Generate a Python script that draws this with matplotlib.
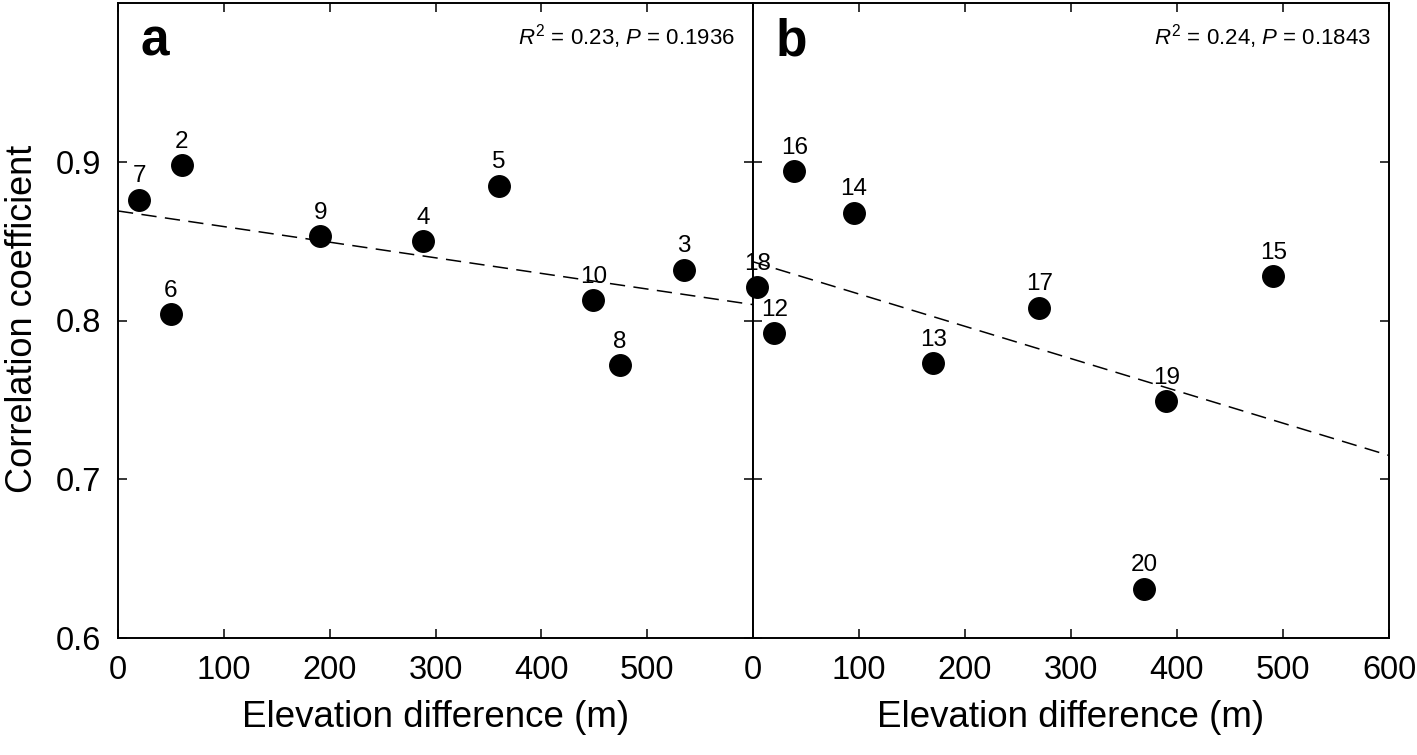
import numpy as np
import matplotlib
matplotlib.use('Agg')
import matplotlib.pyplot as plt

plt.rcParams['font.family'] = ['Liberation Sans', 'DejaVu Sans']
plt.rcParams['mathtext.fontset'] = 'custom'
plt.rcParams['mathtext.rm'] = 'Liberation Sans'
plt.rcParams['mathtext.it'] = 'Liberation Sans:italic'

# panel a
site_a = ['7', '2', '6', '9', '4', '5', '10', '8', '3']
elev_a = [20, 60, 50, 191, 288, 360, 449, 474, 535]
corr_a = [0.876, 0.898, 0.804, 0.853, 0.850, 0.885, 0.813, 0.772, 0.832]
fit_x_a = [0, 600]
fit_y_a = [0.869, 0.810]
stats_a = r'$R^2$ = 0.23, $P$ = 0.1936'

# panel b
site_b = ['18', '12', '16', '14', '13', '17', '19', '20', '15']
elev_b = [4, 20, 39, 95, 170, 270, 390, 369, 491]
corr_b = [0.821, 0.792, 0.894, 0.868, 0.773, 0.808, 0.749, 0.631, 0.828]
fit_x_b = [0, 600]
fit_y_b = [0.837, 0.715]
stats_b = r'$R^2$ = 0.24, $P$ = 0.1843'

yticks = [0.6, 0.7, 0.8, 0.9]

fig = plt.figure(figsize=(14.17, 7.55), dpi=100)
ax1 = fig.add_axes([118/1417, 117/755, 635/1417, 635/755])
ax2 = fig.add_axes([753/1417, 117/755, 636/1417, 635/755])

panels = [(ax1, 'a', site_a, elev_a, corr_a, fit_x_a, fit_y_a, stats_a, [0, 100, 200, 300, 400, 500]),
          (ax2, 'b', site_b, elev_b, corr_b, fit_x_b, fit_y_b, stats_b, [0, 100, 200, 300, 400, 500, 600])]

for ax, letter, sites, xs, ys, fx, fy, stats, xt in panels:
    ax.plot(fx, fy, color='black', lw=1.1, dashes=(10, 5.5), zorder=2)
    ax.plot(xs, ys, 'o', color='black', ms=15.5, zorder=3, clip_on=False)
    for s, x, y in zip(sites, xs, ys):
        ax.annotate(s, (x, y), xytext=(0, 12.5), textcoords='offset points',
                    ha='center', va='baseline', fontsize=17.5, zorder=4,
                    annotation_clip=False)
    ax.set_xlim(0, 600)
    ax.set_ylim(0.6, 1.0)
    ax.set_xticks(xt)
    ax.set_yticks(yticks)
    ax.tick_params(direction='in', length=6.5, width=1.1, top=True, right=True,
                   labelsize=23.5, pad=12.5)
    for sp in ax.spines.values():
        sp.set_linewidth(1.4)
    ax.text(0.035, 0.918, letter, transform=ax.transAxes, fontsize=37,
            fontweight='bold', va='baseline', ha='left')
    ax.text(0.972, 0.934, stats, transform=ax.transAxes, fontsize=16,
            va='baseline', ha='right')
    ax.set_xlabel('Elevation difference (m)', fontsize=26.5)
    ax.xaxis.set_label_coords(0.5, -0.098)
    ax.xaxis.label.set_va('top')

ax1.set_yticklabels(['0.6', '0.7', '0.8', '0.9'])
ax2.tick_params(labelleft=False)
fig.text(0.016, 0.5775, 'Correlation coefficient', rotation=90, fontsize=26,
         ha='center', va='center')

fig.savefig('out.png', dpi=100)
